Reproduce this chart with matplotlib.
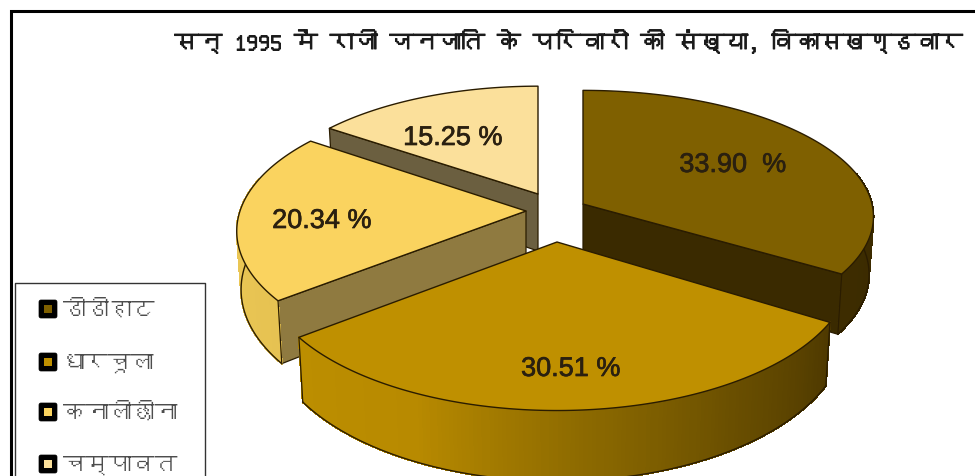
import numpy as np
import matplotlib
matplotlib.use("Agg")
import matplotlib.pyplot as plt
import matplotlib.patheffects as pe
from matplotlib import font_manager as fm
from matplotlib.collections import PolyCollection
from matplotlib.colors import LinearSegmentedColormap
from matplotlib.patches import FancyBboxPatch, Polygon, Rectangle

# Chart content
title = "सन् 1995 में राजी जनजाति के परिवारों की संख्या, विकासखण्डवार"
blocks = ["डीडीहाट", "धारचूला", "कनालीछीना", "चम्पावत"]
shares = [33.90, 30.51, 20.34, 15.25]
share_labels = ["33.90  %", "30.51 %", "20.34 %", "15.25 %"]

# Per-slice styling and perspective geometry (apex x, apex y, rx, ry, perspective)
top_colors = ["#7F6000", "#BF9000", "#FAD35F", "#FBE09B"]
cut_colors = ["#3A2A00", "#3A2A00", "#8F7A40", "#6B5F40"]
outer_stops = [
    ["#3A2A00", "#3D2C00"],
    ["#4E3900", "#6A4F00", "#8E6B00", "#B88A00", "#BC8E00"],
    ["#E6C252", "#EDC955"],
    ["#C9B27A", "#C9B27A"],
]
slice_geom = [
    (583, 205, 289, 125, 0.10),
    (557, 243, 289, 136, 0.193),
    (526, 212, 286, 132, 0.15),
    (538, 195, 277, 124, 0.15),
]
label_xy = [(733, 166), (571, 370), (322, 222), (453, 139)]
legend_colors = ["#7F6000", "#BF9000", "#FAD35F", "#FBE09B"]
legend_y = [310, 363, 413, 465]
DEPTH = 57
RIM_WRAP = 0.25
LINE = "#2A1C00"


def devanagari_font():
    for entry in fm.fontManager.ttflist:
        try:
            if 0x0928 in fm.get_font(entry.fname).get_charmap():
                return entry.name
        except Exception:
            continue
    return None


deva = devanagari_font()
deva_family = ([deva] if deva else []) + ["Liberation Sans", "DejaVu Sans"]

fig = plt.figure(figsize=(9.75, 4.77), dpi=100)
ax = fig.add_axes([0, 0, 1, 1])
ax.set_xlim(0, 975)
ax.set_ylim(477, 0)
ax.axis("off")

# Clockwise angles from 12 o'clock derived from the shares
edges = np.concatenate([[0], np.cumsum(shares)]) / np.sum(shares) * 2 * np.pi


def project(theta, geom):
    cx, cy, rx, ry, k = geom
    X, Y = np.sin(theta), np.cos(theta)
    f = 1 / (1 + k * Y)
    return cx + rx * X * f, cy - ry * Y * f, f


def lower(x, y, f, geom):
    return geom[0] + (x - geom[0]) * 0.985, y + DEPTH * f


def draw_slice(i, z):
    geom = slice_geom[i]
    start, end = edges[i], edges[i + 1]
    apex = (geom[0], geom[1])
    apex_low = (geom[0], geom[1] + DEPTH)

    # Only the radial faces turned toward the viewer are drawn
    faces = []
    if np.sin(start) < -1e-6:
        faces.append(start)
    if np.sin(end) > 1e-6:
        faces.append(end)
    for theta in faces:
        px, py, pf = project(theta, geom)
        qx, qy = lower(px, py, pf, geom)
        ax.add_patch(Polygon([apex, (px, py), (qx, qy), apex_low], closed=True,
                             fc=cut_colors[i], ec=LINE, lw=0.9, zorder=z))

    # Shaded rim on the front half, wrapping slightly under the top face
    lo = max(start, np.pi / 2 - RIM_WRAP)
    hi = min(end, 3 * np.pi / 2 + RIM_WRAP)
    if hi > lo:
        t = np.linspace(lo, hi, 160)
        x, y, f = project(t, geom)
        bx, by = lower(x, y, f, geom)
        cmap = LinearSegmentedColormap.from_list("rim", outer_stops[i])
        quads = [[(x[j], y[j]), (x[j + 1], y[j + 1]), (bx[j + 1], by[j + 1]), (bx[j], by[j])]
                 for j in range(len(t) - 1)]
        shade = [cmap(j / (len(t) - 2)) for j in range(len(t) - 1)]
        ax.add_collection(PolyCollection(quads, facecolors=shade, edgecolors=shade,
                                         linewidths=0.8, antialiased=False, zorder=z + 0.1))
        ax.plot(bx, by, color=LINE, lw=1.0, zorder=z + 0.2)
        # Vertical edges only where the rim meets a real slice corner
        for j, angle in ((0, start), (-1, end)):
            if lo <= angle <= hi:
                ax.plot([x[j], bx[j]], [y[j], by[j]], color=LINE, lw=0.9, zorder=z + 0.2)

    # Flat top of the slice
    t = np.linspace(start, end, 160)
    x, y, _ = project(t, geom)
    outline = np.column_stack([np.r_[apex[0], x], np.r_[apex[1], y]])
    ax.add_patch(Polygon(outline, closed=True, fc=top_colors[i], ec=LINE, lw=1.0,
                         joinstyle="round", zorder=z + 0.3))


for order, i in enumerate([3, 0, 2, 1]):
    draw_slice(i, 2 + order)

for (lx, ly), text in zip(label_xy, share_labels):
    ax.text(lx, ly, text, ha="center", va="center", fontsize=19.5, color="#2A2010",
            family="Liberation Sans", zorder=10,
            path_effects=[pe.withStroke(linewidth=0.5, foreground="#2A2010")])

# Page frame along the top and left
ax.plot([975, 11, 11], [12, 12, 477], color="black", lw=2.2, solid_joinstyle="miter",
        zorder=12)

ax.text(568, 42, title, ha="center", va="center", fontsize=17.2, color="#1A1A1A",
        family=deva_family, zorder=12,
        path_effects=[pe.withStroke(linewidth=0.7, foreground="#1A1A1A")])

# Legend box runs off the lower edge
ax.plot([15, 15, 205, 205], [477, 284, 284, 477], color="#333333", lw=1.0, zorder=12)
for name, col, y in zip(blocks, legend_colors, legend_y):
    ax.add_patch(FancyBboxPatch((40, y - 8), 16, 16, boxstyle="round,pad=1,rounding_size=2",
                                fc="black", ec="black", lw=0.5, zorder=13))
    ax.add_patch(Rectangle((44, y - 4), 8, 8, fc=col, ec="none", zorder=14))
    ax.text(63, y, name, ha="left", va="center", fontsize=16.5, color="#4D4D4D",
            family=deva_family, zorder=13)

fig.savefig("out.png", dpi=100, facecolor="white")
